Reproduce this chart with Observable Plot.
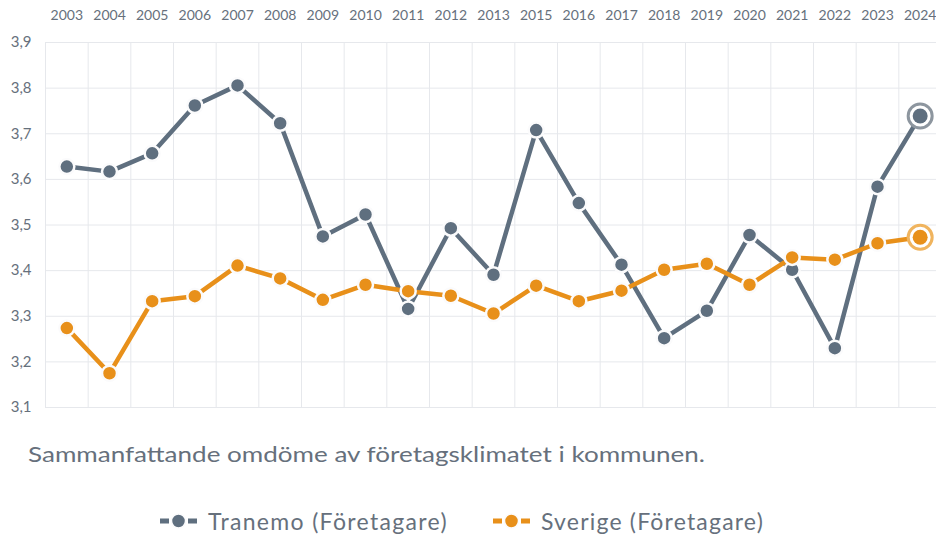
<!DOCTYPE html>
<html>
<head>
<meta charset="utf-8">
<script src="https://cdn.jsdelivr.net/npm/d3@7"></script>
<script src="https://cdn.jsdelivr.net/npm/@observablehq/plot@0.6"></script>
<style>
  html, body { margin: 0; padding: 0; background: #fff; }
  body { width: 936px; height: 536px; overflow: hidden; font-family: Lato, "Open Sans", sans-serif; position: relative; }
  #caption { position: absolute; left: 28px; top: 441px; font-size: 22px; line-height: 26px; color: #66707c; white-space: nowrap; transform-origin: 0 0; }
  #legend { position: absolute; top: 506px; left: 160px; display: flex; align-items: center; font-size: 23px; line-height: 30px; color: #66707c; }
  .item { display: flex; align-items: center; white-space: nowrap; }
  .item span { display: inline-block; transform-origin: 0 50%; }
</style>
</head>
<body>
<div id="chart"></div>
<div id="caption">Sammanfattande omdöme av företagsklimatet i kommunen.</div>
<div id="legend"></div>
<script>
const years = ["2003","2004","2005","2006","2007","2008","2009","2010","2011","2012","2013","2015","2016","2017","2018","2019","2020","2021","2022","2023","2024"];
const tranemo = [3.628,3.617,3.657,3.762,3.806,3.723,3.475,3.523,3.316,3.493,3.391,3.708,3.548,3.413,3.252,3.312,3.478,3.402,3.230,3.584,3.739];
const sverige = [3.274,3.175,3.333,3.344,3.411,3.383,3.336,3.369,3.355,3.345,3.306,3.367,3.333,3.356,3.402,3.415,3.369,3.429,3.424,3.460,3.473];
const yTicks = [3.1,3.2,3.3,3.4,3.5,3.6,3.7,3.8,3.9];
const seriesNames = ["Tranemo (Företagare)", "Sverige (Företagare)"];
const colors = ["#5f6f7f", "#e8901a"];
const haloColors = ["#8d969f", "#f0b45e"];

const tData = years.map((y, i) => ({year: y, value: tranemo[i]}));
const sData = years.map((y, i) => ({year: y, value: sverige[i]}));
const step = (936 + 5 - 45) / years.length;

function seriesMarks(data, k) {
  const last = data[data.length - 1];
  return [
    Plot.line(data, {x: "year", y: "value", stroke: colors[k], strokeWidth: 4.5}),
    Plot.dot(data.slice(0, -1), {x: "year", y: "value", r: 7.5, fill: colors[k], stroke: "#fbfbfc", strokeWidth: 2.5}),
    Plot.dot([last], {x: "year", y: "value", r: 12, fill: "#fff", stroke: haloColors[k], strokeWidth: 3}),
    Plot.dot([last], {x: "year", y: "value", r: 7.5, fill: colors[k]})
  ];
}

const chart = Plot.plot({
  width: 936,
  height: 425,
  marginTop: 42,
  marginBottom: 18,
  marginLeft: 45,
  marginRight: -5,
  style: {fontFamily: "Lato, 'Open Sans', sans-serif", fontSize: "14px", color: "#66707c", background: "transparent", overflow: "visible"},
  x: {type: "band", domain: years, padding: 0, round: false, label: null},
  y: {domain: [3.1, 3.9], label: null},
  marks: [
    Plot.ruleY(yTicks, {stroke: "#e6e8ec", strokeWidth: 1}),
    Plot.ruleX(years, {x: d => d, dx: -step / 2, stroke: "#e6e8ec", strokeWidth: 1}),
    Plot.axisX({anchor: "top", tickSize: 0, tickPadding: 23, fontSize: 14, fill: "#66707c"}),
    Plot.axisY({ticks: yTicks, tickSize: 0, tickPadding: 14, fontSize: 15, fill: "#66707c", tickFormat: d => d.toFixed(1).replace(".", ",")}),
    ...seriesMarks(tData, 0),
    ...seriesMarks(sData, 1)
  ]
});
document.getElementById("chart").appendChild(chart);

// caption: reference text is condensed; fit to its measured width
const cap = document.getElementById("caption");
const w = cap.getBoundingClientRect().width;
cap.style.transform = `scaleX(${677 / w})`;

const legend = document.getElementById("legend");
const textWidths = [240, 223];
const gaps = [0, 45];
seriesNames.forEach((name, k) => {
  const item = document.createElement("div");
  item.className = "item";
  item.style.marginLeft = gaps[k] + "px";
  item.innerHTML = `<svg width="37" height="18" viewBox="0 0 37 18" style="margin-right:11px">
    <rect x="0" y="6.5" width="9" height="5" fill="${colors[k]}"/>
    <rect x="28" y="6.5" width="9" height="5" fill="${colors[k]}"/>
    <circle cx="18.5" cy="9" r="7" fill="${colors[k]}" stroke="#fbfbfc" stroke-width="1.5"/>
  </svg><span>${name}</span>`;
  legend.appendChild(item);
  const span = item.querySelector("span");
  const sw = span.getBoundingClientRect().width;
  span.style.letterSpacing = ((textWidths[k] - sw) / name.length) + "px";
});
</script>
</body>
</html>
